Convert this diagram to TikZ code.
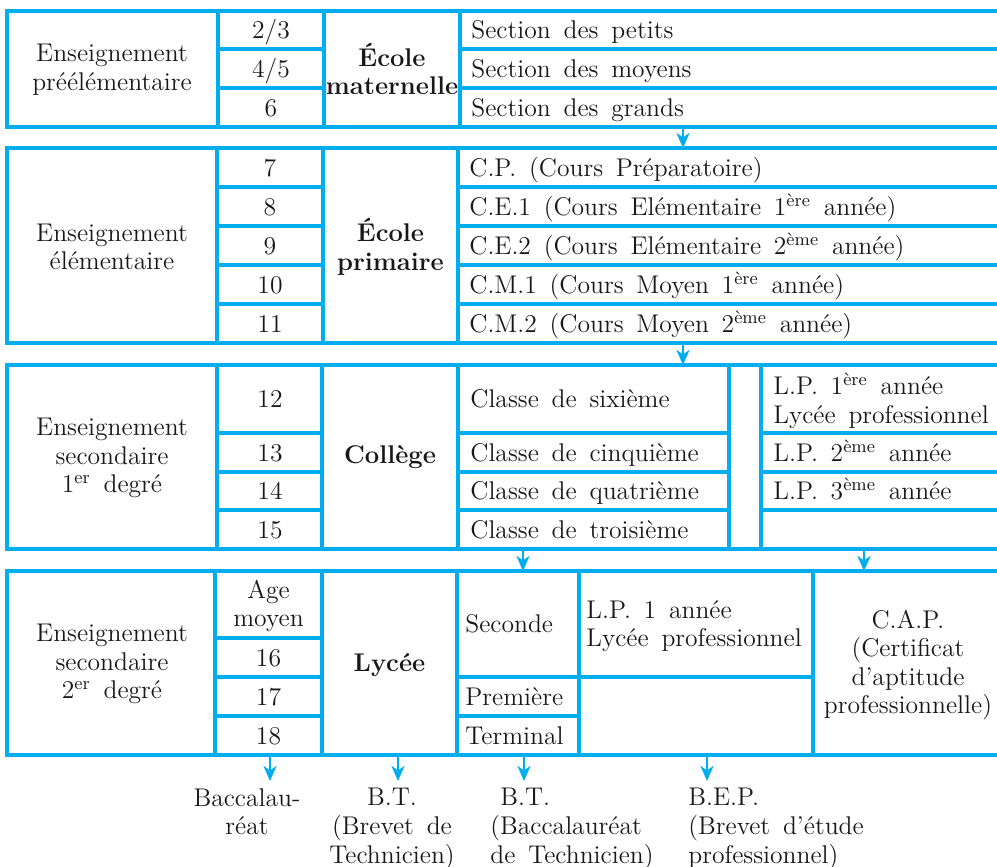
\documentclass[tikz,border=0pt]{standalone}
\usetikzlibrary{arrows.meta}
\definecolor{tblue}{HTML}{00AEEF}
\definecolor{ink}{HTML}{1A1718}
\protected\def\wordsp{\spaceskip=0.5em plus 0.1em minus 0.05em\relax}
\protected\def\tabfont{\fontsize{12.8}{14.3}\selectfont\wordsp}
\begin{document}
\begin{tikzpicture}[x=0.5pt,y=-0.5pt,
  grid/.style={draw=tblue,line width=1.65pt,line join=miter},
  arr/.style={draw=tblue,line width=1.3pt,-{Stealth[length=7.5pt,width=6.5pt,inset=2.2pt]}},
  txt/.style={text=ink,inner sep=0pt,font=\tabfont},
  cell/.style={txt,text height=8.7pt,text depth=0pt},
  lcell/.style={cell,anchor=west},
  multi/.style={txt,align=center},
  lmulti/.style={txt,align=left,anchor=west},
  bold/.style={txt,align=center,font=\tabfont\bfseries}]
\useasboundingbox (0,0) rectangle (997,867);

% ---------- Block 1 ----------
\draw[grid] (997,11) -- (7,11) -- (7,127) -- (997,127);
\draw[grid] (218,11) -- (218,127) (324,11) -- (324,127) (460,11) -- (460,127);
\draw[grid] (218,49) -- (324,49) (218,88) -- (324,88) (460,49) -- (997,49) (460,88) -- (997,88);
\node[multi] (ens1) at (112,70) {Enseignement\\préélémentaire};
\node[cell] (g23) at (271,30) {2/3};
\node[cell] (g45) at (271,69) {4/5};
\node[cell] (g6) at (271,108) {6};
\node[bold] (mat) at (392,69) {École\\maternelle};
\node[lcell] (sp) at (471,30) {Section des petits};
\node[lcell] (sm) at (471,69) {Section des moyens};
\node[lcell] (sg) at (471,108) {Section des grands};

% ---------- Block 2 ----------
\draw[grid] (997,148) -- (7,148) -- (7,343) -- (997,343);
\draw[grid] (217,148) -- (217,343) (323,148) -- (323,343) (458,148) -- (458,343);
\foreach \yy in {187,226,265,304}{
  \draw[grid] (217,\yy) -- (323,\yy) (458,\yy) -- (997,\yy);
}
\node[multi] (ens2) at (112,247) {Enseignement\\élémentaire};
\node[cell] (g7) at (270,167.5) {7};
\node[cell] (g8) at (270,206.5) {8};
\node[cell] (g9) at (270,245.5) {9};
\node[cell] (g10) at (270,284.5) {10};
\node[cell] (g11) at (270,323.5) {11};
\node[bold] (prim) at (390.5,247) {École\\primaire};
\node[lcell] (cp) at (469,167.5) {C.P. (Cours Préparatoire)};
\node[lcell] (ce1) at (469,206.5) {C.E.1 (Cours Elémentaire 1\textsuperscript{ère} année)};
\node[lcell] (ce2) at (469,245.5) {C.E.2 (Cours Elémentaire 2\textsuperscript{ème} année)};
\node[lcell] (cm1) at (469,284.5) {C.M.1 (Cours Moyen 1\textsuperscript{ère} année)};
\node[lcell] (cm2) at (469,323.5) {C.M.2 (Cours Moyen 2\textsuperscript{ème} année)};

% ---------- Block 3 ----------
\draw[grid] (997,365) -- (7,365) -- (7,549) -- (997,549);
\draw[grid] (217,365) -- (217,549) (322,365) -- (322,549) (458,365) -- (458,549)
            (729,365) -- (729,549) (761,365) -- (761,549);
\foreach \yy in {433,472,510}{
  \draw[grid] (217,\yy) -- (322,\yy) (458,\yy) -- (729,\yy) (761,\yy) -- (997,\yy);
}
\node[multi] (ens3) at (112,458) {Enseignement\\secondaire\\1\textsuperscript{er} degré};
\node[cell] (g12) at (270,399) {12};
\node[cell] (g13) at (270,452.5) {13};
\node[cell] (g14) at (270,491) {14};
\node[cell] (g15) at (270,529.5) {15};
\node[bold] (col) at (390,457) {Collège};
\node[lcell] (c6) at (470,399) {Classe de sixième};
\node[lcell] (c5) at (470,452.5) {Classe de cinquième};
\node[lcell] (c4) at (470,491) {Classe de quatrième};
\node[lcell] (c3) at (470,529.5) {Classe de troisième};
\node[lmulti] (lp1) at (773,401) {L.P. 1\textsuperscript{ère} année\\Lycée professionnel};
\node[lcell] (lp2) at (773,452.5) {L.P. 2\textsuperscript{ème} année};
\node[lcell] (lp3) at (773,491) {L.P. 3\textsuperscript{ème} année};

% ---------- Block 4 ----------
\draw[grid] (997,571) -- (7,571) -- (7,755) -- (997,755);
\draw[grid] (215,571) -- (215,755) (322,571) -- (322,755) (457,571) -- (457,755)
            (579,571) -- (579,755) (813,571) -- (813,755);
\draw[grid] (215,638) -- (322,638) (215,677) -- (322,677) (215,716) -- (322,716)
            (457,677) -- (813,677) (457,716) -- (579,716);
\node[multi] (ens4) at (112,664) {Enseignement\\secondaire\\2\textsuperscript{er} degré};
\node[multi] (age) at (268.5,606) {Age\\moyen};
\node[cell] (g16) at (268.5,657.5) {16};
\node[cell] (g17) at (268.5,696.5) {17};
\node[cell] (g18) at (268.5,735.5) {18};
\node[bold] (lyc) at (389.5,665) {Lycée};
\node[lcell] (sec) at (465,624) {Seconde};
\node[lcell] (prem) at (465,696.5) {Première};
\node[lcell] (term) at (465,735.5) {Terminal};
\node[lmulti] (lpa) at (586,626) {L.P. 1 année\\Lycée professionnel};
\node[multi] (cap) at (908,665) {C.A.P.\\(Certificat\\d'aptitude\\professionnelle)};

% ---------- Arrows ----------
\coordinate (a1s) at (683,127); \coordinate (a1e) at (683,148);
\coordinate (a2s) at (683,343); \coordinate (a2e) at (683,365);
\coordinate (a3s) at (523,549); \coordinate (a3e) at (523,571);
\coordinate (a4s) at (864,549); \coordinate (a4e) at (864,571);
\coordinate (b1s) at (270,755); \coordinate (b1e) at (270,781);
\coordinate (b2s) at (398,755); \coordinate (b2e) at (398,781);
\coordinate (b3s) at (524,755); \coordinate (b3e) at (524,781);
\coordinate (b4s) at (707,755); \coordinate (b4e) at (707,781);
\draw[arr] (a1s) -- (a1e);
\draw[arr] (a2s) -- (a2e);
\draw[arr] (a3s) -- (a3e);
\draw[arr] (a4s) -- (a4e);
\draw[arr] (b1s) -- (b1e);
\draw[arr] (b2s) -- (b2e);
\draw[arr] (b3s) -- (b3e);
\draw[arr] (b4s) -- (b4e);

% ---------- Bottom labels ----------
\node[multi,anchor=north] (bac) at (247,788) {Baccalau-\\réat};
\node[multi,anchor=north] (bt1) at (392,788) {B.T.\\(Brevet de\\Technicien)};
\node[txt,align=left,anchor=north west] (bt2) at (490,788) {\hspace{5pt}B.T.\\(Baccalauréat\\de Technicien)};
\node[txt,align=left,anchor=north west] (bep) at (688,788) {B.E.P.\\(Brevet d'étude\\professionnel)};
\end{tikzpicture}
\end{document}
